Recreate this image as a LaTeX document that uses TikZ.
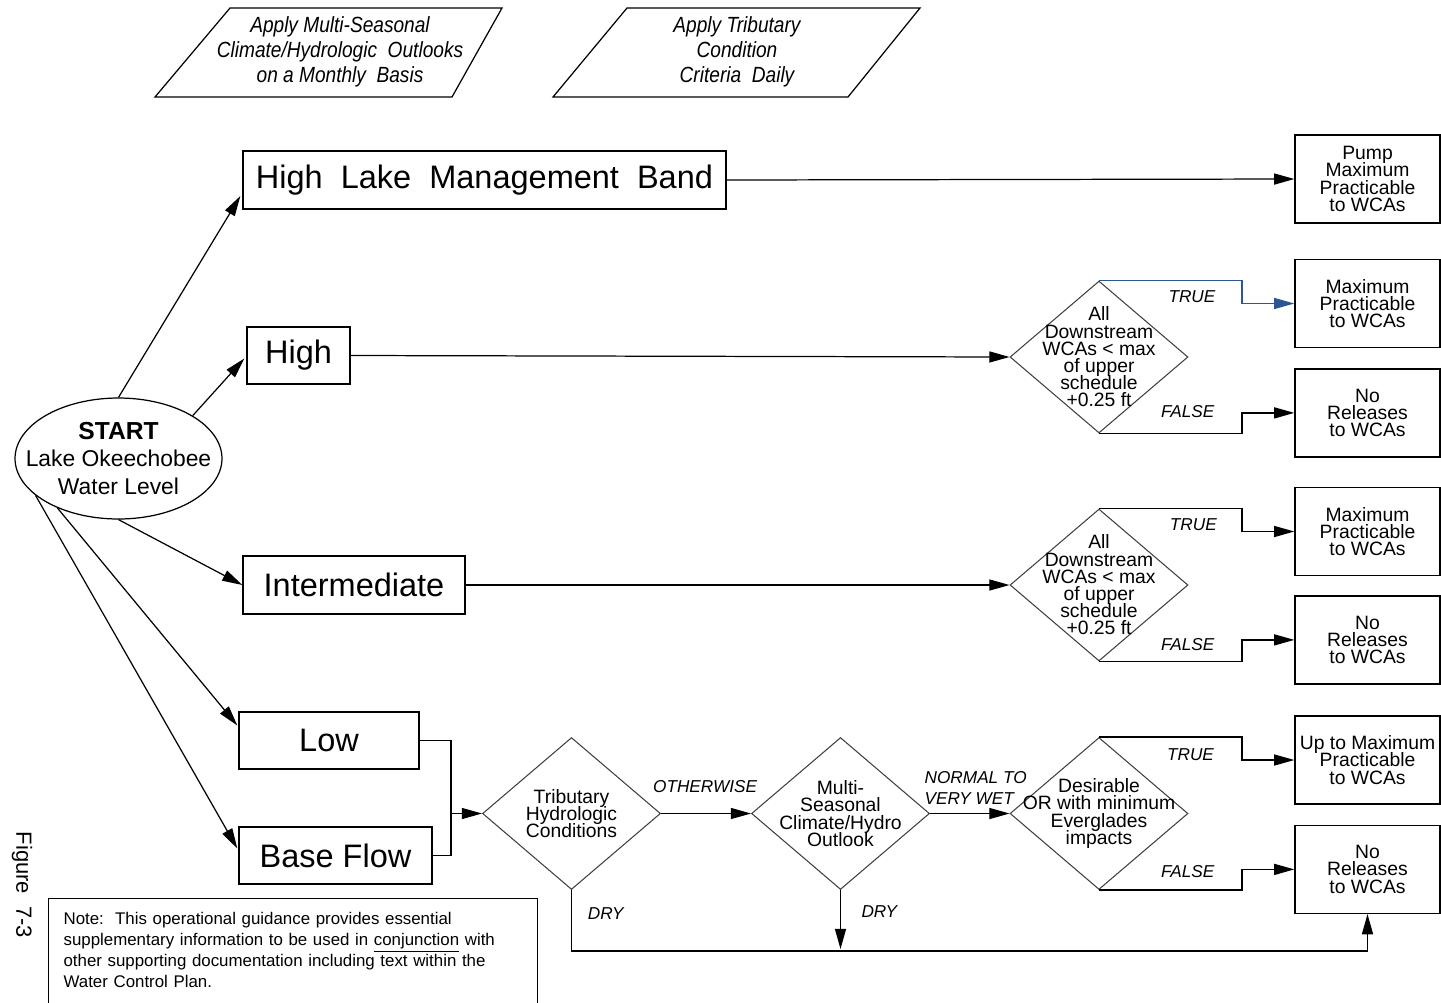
\documentclass[tikz,border=0pt]{standalone}
\usepackage{fontspec}
\setmainfont{Liberation Sans}
\newfontfamily\narrowfont[FakeStretch=0.87]{Liberation Sans}
\usepackage{tikz}
\usetikzlibrary{shapes.geometric, arrows.meta, positioning, calc}
\lineskiplimit=-20pt

\definecolor{trueblue}{RGB}{46,84,150}

\tikzset{
  lakebox/.style={draw, line width=0.8pt, inner sep=0pt, font=\fontsize{18.5}{22}\selectfont},
  outbox/.style={draw, line width=0.8pt, inner sep=0pt, minimum width=2.9cm, minimum height=1.76cm,
    align=center, font=\fontsize{11}{9.8}\selectfont},
  decision/.style={diamond, draw=black!75, line width=0.6pt, inner sep=-1cm, minimum width=3.56cm,
    minimum height=3.04cm, align=center, font=\fontsize{11}{9.8}\selectfont},
  startnode/.style={ellipse, draw, line width=0.7pt, inner xsep=-0.5cm, inner ysep=0pt,
    minimum width=4.14cm, minimum height=2.42cm, align=center, font=\fontsize{13}{15.9}\selectfont},
  inbox/.style={align=center, inner sep=0pt, font=\narrowfont\itshape\fontsize{12.5}{14.2}\selectfont},
  lbl/.style={inner sep=0pt, font=\fontsize{9.8}{11.9}\selectfont\itshape},
  conn/.style={line width=0.7pt},
  arrow/.style={conn, -{Triangle[length=11.5pt,width=6.3pt]}},
}

\begin{document}
\begin{tikzpicture}[x=0.02cm, y=-0.02cm]
  \useasboundingbox (0,0) rectangle (1441,1002);

  % Define nodes
  \node[inbox] (seasonal) at (340,52) {Apply Multi-Seasonal\\Climate/Hydrologic\ \ Outlooks\\on a Monthly\ \ Basis};
  \node[inbox] (tribdaily) at (737,52) {Apply Tributary\\Condition\\Criteria\ \ Daily};
  \draw[conn] (155,97) -- (230,8) -- (502,8) -- (452,97) -- cycle;
  \draw[conn] (553,97) -- (627,8) -- (920,8) -- (848,97) -- cycle;

  \node[startnode] (start) at (118.5,458.5) {{\fontsize{14}{15.9}\selectfont\bfseries START}\\Lake Okeechobee\\Water Level};

  \node[lakebox, minimum width=9.66cm, minimum height=1.16cm] (hlmb) at (484.5,180) {High\ \ Lake\ \ Management\ \ Band};
  \node[lakebox, minimum width=2.06cm, minimum height=1.14cm] (high) at (298.5,355.5) {High};
  \node[lakebox, minimum width=4.44cm, minimum height=1.16cm] (inter) at (354,585) {Intermediate};
  \node[lakebox, minimum width=3.6cm, minimum height=1.14cm] (low) at (329,740.5) {Low};
  \node[lakebox, minimum width=3.86cm, minimum height=1.14cm] (base) at (335.5,855.5) {Base Flow};

  \node[decision] (d1) at (1099,357) {All\\Downstream\\WCAs < max\\of upper\\schedule\\+0.25 ft};
  \node[decision] (d2) at (1099,585) {All\\Downstream\\WCAs < max\\of upper\\schedule\\+0.25 ft};
  \node[decision] (trib) at (571.5,813.5) {Tributary\\Hydrologic\\Conditions};
  \node[decision] (multi) at (840.5,813.5) {Multi-\\Seasonal\\Climate/Hydro\\Outlook};
  \node[decision] (des) at (1099,813.5) {Desirable\\OR with minimum\\Everglades\\impacts};

  \node[outbox] (pump) at (1367.5,179) {Pump\\Maximum\\Practicable\\to WCAs};
  \node[outbox] (max1) at (1367.5,303.5) {Maximum\\Practicable\\to WCAs};
  \node[outbox, below=0.4cm of max1] (nr1) {No\\Releases\\to WCAs};
  \node[outbox] (max2) at (1367.5,531.5) {Maximum\\Practicable\\to WCAs};
  \node[outbox, below=0.38cm of max2] (nr2) {No\\Releases\\to WCAs};
  \node[outbox] (upmax) at (1367.5,760) {Up to Maximum\\Practicable\\to WCAs};
  \node[outbox, below=0.4cm of upmax] (nr3) {No\\Releases\\to WCAs};

  \node[draw, line width=0.7pt, anchor=north west, text width=9.18cm, inner xsep=0.3cm, inner ysep=8pt,
    text depth=64pt, align=left, font=\fontsize{9.6}{11.9}\selectfont] (note) at (48,898)
    {Note:\ \ This operational guidance provides essential\\supplementary information to be used in \underline{conjunction} with\\other supporting documentation including text within the\\Water Control Plan.};
  \node[rotate=-90, font=\fontsize{12.5}{15}\selectfont] (fig) at (22,885) {Figure\ \ 7-3};

  % Lake levels
  \draw[arrow] (start.north) -- ($(hlmb.west)+(-2,16)$);
  \draw[arrow] (start.30) -- ($(high.west)+(-2,3)$);
  \draw[arrow] (start.south) -- (inter.west);
  \draw[arrow] (start.219) -- ($(low.west)+(-1,-15)$);
  \draw[arrow] (start.204) -- ($(base.west)+(-1,-7)$);

  % Branches
  \draw[arrow] (hlmb.east) -- (pump.west);
  \draw[arrow] (high.east) -- (d1.west);
  \draw[arrow] (inter.east) -- (d2.west);

  \draw[arrow, draw=trueblue] (d1.north) -- node[lbl, pos=0.65, below=5.6pt] {TRUE} ++(143,0) |- (max1.west);
  \draw[arrow] (d1.south) -- node[lbl, pos=0.62, above=8.4pt] {FALSE} ++(143,0) |- (nr1.west);
  \draw[arrow] (d2.north) -- node[lbl, pos=0.66, below=5.6pt] {TRUE} ++(143,0) |- (max2.west);
  \draw[arrow] (d2.south) -- node[lbl, pos=0.62, above=6.1pt] {FALSE} ++(143,0) |- (nr2.west);

  \coordinate (jn) at (451,813.5);
  \draw[conn] (low.east) -| (jn);
  \draw[conn] (base.east) -| (jn);
  \draw[arrow] (jn) -- (trib.west);

  \draw[arrow] (trib.east) -- node[lbl, pos=0.49, above=11.5pt] {OTHERWISE} (multi.west);
  \draw[arrow] (multi.east) -- node[lbl, pos=0, anchor=south west, align=left, xshift=-3.4pt, yshift=4.8pt] {NORMAL TO\\VERY WET} (des.west);
  \draw[arrow] (des.north) -- node[lbl, pos=0.64, below=6.1pt] {TRUE} ++(143,0) |- (upmax.west);
  \draw[arrow] (des.south) -- node[lbl, pos=0.62, above=6.7pt] {FALSE} ++(143,0) |- (nr3.west);

  \draw[arrow] (trib.south) -- node[lbl, pos=0.385, right=9pt] {DRY} ++(0,61) -| (nr3.south);
  \draw[arrow] (multi.south) -- node[lbl, pos=0.37, right=11.6pt] {DRY} ++(0,59);

\end{tikzpicture}
\end{document}
